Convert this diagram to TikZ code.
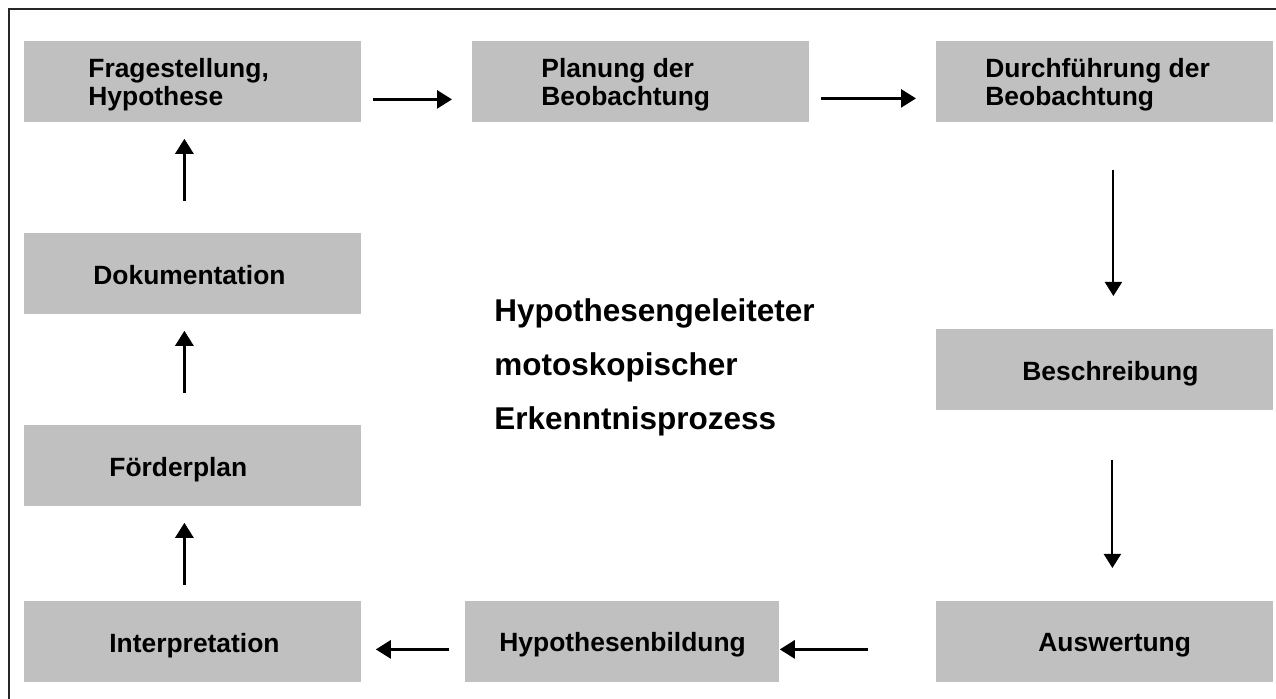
\documentclass[tikz,border=0pt]{standalone}
\usepackage{fontspec}
\setmainfont{Liberation Sans}
\usetikzlibrary{arrows.meta,calc}
\begin{document}
\begin{tikzpicture}[x=0.5pt,y=-0.5pt,
  box/.style={fill=boxgray,draw=none,inner sep=0pt,minimum width=168.5pt,minimum height=40.5pt,anchor=north west},
  wide/.style={box,minimum width=157pt},
  lbl/.style={inner sep=0pt,anchor=base west,font=\fontsize{13.2}{14}\selectfont\bfseries},
  arrthick/.style={line width=1.4pt,-{Triangle[length=7.5pt,width=9pt]}},
  arrthin/.style={line width=1pt,-{Triangle[length=7pt,width=8.5pt]}}]
\definecolor{boxgray}{HTML}{C0C0C0}
\useasboundingbox (0,0) rectangle (1276,699);
\clip (0,0) rectangle (1276,699);
\draw[line width=1pt,draw=black!85] (9,710) -- (9,9) -- (1290,9);
% boxes
\node[box] (b1) at (24,41) {};
\node[box] (b2) at (472,41) {};
\node[box] (b3) at (936,41) {};
\node[box] (b4) at (936,329) {};
\node[box] (b5) at (936,601) {};
\node[wide] (b6) at (465,601) {};
\node[box] (b7) at (24,601) {};
\node[box] (b8) at (24,425) {};
\node[box] (b9) at (24,233) {};
% texts
\node[lbl] (t1) at (88,78) {\begin{tabular}[t]{@{}l@{}}Fragestellung,\\Hypothese\end{tabular}};
\node[lbl] (t2) at (541,78) {\begin{tabular}[t]{@{}l@{}}Planung der\\Beobachtung\end{tabular}};
\node[lbl] (t3) at (985,78) {\begin{tabular}[t]{@{}l@{}}Durchführung der\\Beobachtung\end{tabular}};
\node[lbl] (t4) at (1022,381) {Beschreibung};
\node[lbl] (t5) at (1038,652) {Auswertung};
\node[lbl] (t6) at (499,652) {Hypothesenbildung};
\node[lbl] (t7) at (109,653) {Interpretation};
\node[lbl] (t8) at (109,477) {Förderplan};
\node[lbl] (t9) at (93,285) {Dokumentation};
\node[inner sep=0pt,anchor=base west,font=\fontsize{15.75}{27}\selectfont\bfseries] (ctr) at (494,322)
  {\begin{tabular}[t]{@{}l@{}}Hypothesengeleiteter\\motoskopischer\\Erkenntnisprozess\end{tabular}};
% arrows
\draw[arrthick] ($(b1.east)+(11,17.5)$) -- ($(b2.west)+(-20,17.5)$);
\draw[arrthick] ($(b2.east)+(11,16.5)$) -- ($(b3.west)+(-20,16.5)$);
\draw[arrthin] ($(b3.south)+(8.5,47)$) -- ($(b4.north)+(8.5,-33)$);
\draw[arrthin] ($(b4.south)+(7.5,49)$) -- ($(b5.north)+(7.5,-33)$);
\draw[arrthick] ($(b5.west)+(-68,7.5)$) -- ($(b6.east)+(0,7.5)$);
\draw[arrthick] ($(b6.west)+(-16,7.5)$) -- ($(b7.east)+(14,7.5)$);
\draw[arrthick] ($(b7.north)+(-8.5,-16)$) -- ($(b8.south)+(-8.5,16)$);
\draw[arrthick] ($(b8.north)+(-8.5,-32)$) -- ($(b9.south)+(-8.5,16)$);
\draw[arrthick] ($(b9.north)+(-8.5,-32)$) -- ($(b1.south)+(-8.5,16)$);
\end{tikzpicture}
\end{document}
